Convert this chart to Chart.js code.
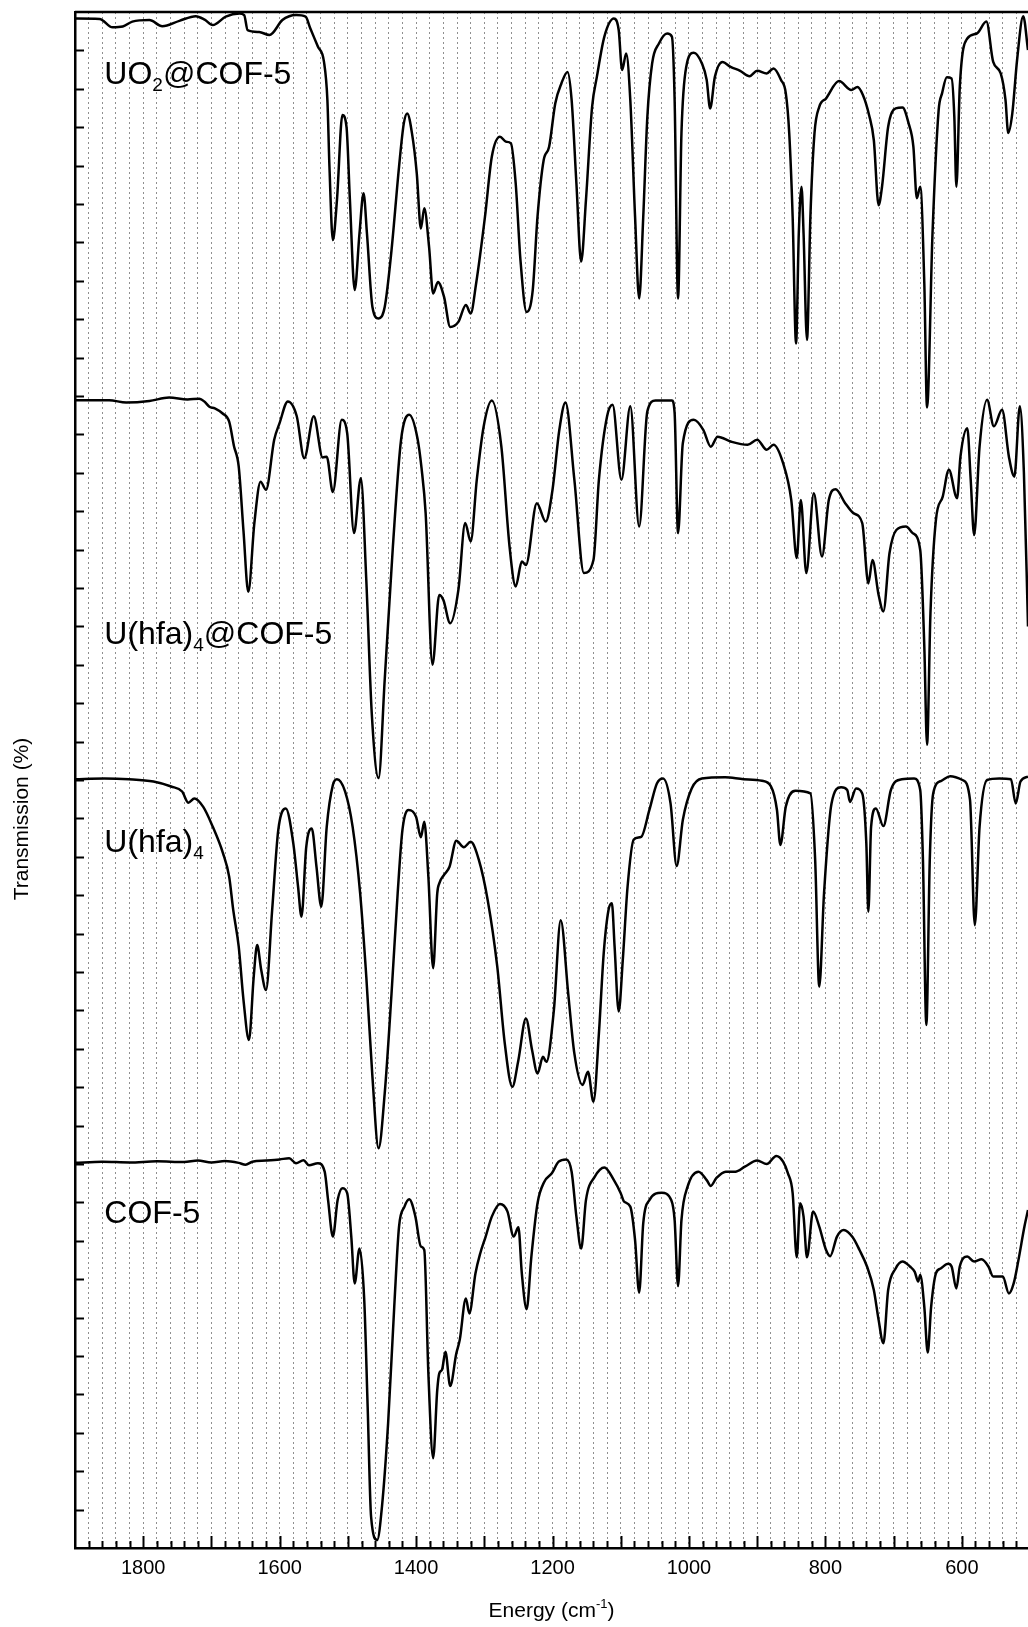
<!DOCTYPE html>
<html>
<head>
<meta charset="utf-8">
<script src="https://cdn.jsdelivr.net/npm/chart.js@4/dist/chart.umd.min.js"></script>
<style>
  html, body { margin: 0; padding: 0; background: #fff; overflow: hidden; }
  #wrap { width: 1028px; height: 1627px; position: relative; }
</style>
</head>
<body>
<div id="wrap"><canvas id="irChart"></canvas></div>
<script>
// ----- Data (wavenumber in cm-1, transmission in relative units per trace) -----
const FONT = 'Arial, "Liberation Sans", Helvetica, sans-serif';

// stacking offsets, top to bottom
const offsets = [300, 200, 100, 0];

// UO2@COF-5
const waveUO2 = [1900, 1864, 1845, 1830, 1816, 1791, 1772, 1747, 1723, 1710, 1698, 1679, 1659, 1652, 1647, 1630, 1615, 1596, 1586, 1576,
  1562, 1555, 1544, 1535, 1530, 1527, 1522, 1516, 1508, 1502, 1497, 1490, 1483, 1477, 1472, 1464, 1455, 1446, 1436, 1425,
  1418, 1413, 1406, 1399, 1393, 1388, 1381, 1375, 1368, 1359, 1350, 1338, 1327, 1320, 1312, 1299, 1289, 1277, 1268, 1261,
  1254, 1247, 1238, 1229, 1222, 1213, 1205, 1196, 1187, 1178, 1172, 1165, 1158, 1151, 1142, 1135, 1124, 1110, 1103, 1098,
  1092, 1086, 1079, 1073, 1067, 1061, 1054, 1044, 1032, 1025, 1021, 1016, 1011, 1004, 993, 981, 974, 969, 962, 951,
  939, 925, 911, 900, 886, 876, 865, 858, 853, 848, 843, 839, 835, 832, 827, 822, 816, 809, 799, 780,
  762, 753, 745, 736, 729, 722, 717, 708, 697, 687, 678, 671, 666, 661, 655, 651, 643, 634, 629, 622,
  615, 611, 608, 603, 592, 578, 564, 554, 543, 536, 532, 526, 519, 510, 503];
const transUO2 = [98.3, 98.2, 96.0, 96.2, 97.5, 97.9, 96.3, 97.7, 98.9, 98.0, 96.6, 98.8, 99.6, 99.2, 95.3, 94.8, 94.0, 97.9, 98.9, 99.2,
  98.8, 95.7, 91.0, 87.0, 77.0, 59.7, 40.6, 51.0, 73.2, 70.1, 51.0, 27.6, 42.3, 52.8, 42.3, 23.2, 20.2, 23.2, 38.0, 59.7,
  71.0, 73.6, 68.4, 58.0, 43.6, 48.9, 38.9, 26.7, 29.7, 25.8, 18.0, 19.3, 23.7, 21.5, 29.3, 46.7, 62.3, 67.5, 66.2, 65.8,
  55.4, 35.4, 21.9, 27.6, 46.7, 61.4, 64.9, 76.2, 81.4, 84.4, 77.1, 55.4, 35.0, 51.0, 75.3, 83.1, 93.6, 98.3, 95.3, 84.9,
  89.2, 77.1, 46.7, 25.4, 46.7, 72.7, 86.6, 91.8, 94.4, 93.6, 77.1, 25.4, 68.4, 85.7, 89.4, 86.6, 82.3, 74.9, 83.1, 87.0,
  85.7, 84.7, 83.3, 84.7, 84.0, 85.3, 82.3, 78.8, 68.4, 46.7, 13.7, 42.3, 54.5, 42.3, 14.6, 46.7, 68.4, 75.3, 77.5, 82.0,
  79.7, 80.5, 78.4, 73.2, 66.6, 49.7, 54.5, 70.1, 74.9, 75.1, 71.0, 64.9, 51.5, 54.5, 29.3, -3.0, 42.3, 74.4, 78.8, 83.0,
  82.7, 72.7, 54.5, 80.5, 93.1, 94.4, 97.5, 87.0, 84.0, 77.1, 68.5, 73.6, 87.5, 98.9, 90.1];

// U(hfa)4@COF-5
const waveUhfaCOF = [1900, 1850, 1825, 1791, 1762, 1735, 1718, 1710, 1703, 1695, 1684, 1674, 1667, 1660, 1653, 1646, 1637, 1628, 1620, 1608,
  1600, 1588, 1575, 1564, 1550, 1537, 1531, 1522, 1509, 1501, 1491, 1481, 1473, 1465, 1455, 1446, 1434, 1422, 1410, 1398,
  1392, 1386, 1376, 1366, 1360, 1350, 1338, 1328, 1320, 1311, 1301, 1289, 1275, 1263, 1254, 1245, 1239, 1223, 1210, 1200,
  1190, 1181, 1168, 1154, 1140, 1132, 1120, 1112, 1099, 1086, 1073, 1061, 1049, 1025, 1021, 1016, 1009, 993, 979, 968,
  958, 938, 914, 900, 886, 876, 862, 850, 842, 836, 828, 817, 805, 795, 785, 771, 759, 746, 737, 731,
  722, 715, 706, 696, 682, 672, 661, 655, 651, 646, 638, 628, 619, 607, 602, 592, 587, 582, 574, 563,
  553, 541, 531, 523, 515, 509, 503];
const transUhfaCOF = [98.9, 98.9, 98.3, 98.7, 99.6, 99.1, 99.3, 98.5, 97.2, 96.8, 95.5, 93.3, 87.0, 81.6, 64.8, 49.0, 67.0, 77.7, 75.6, 88.6,
  93.0, 98.6, 94.8, 83.8, 94.7, 84.0, 84.2, 75.0, 93.8, 90.3, 64.3, 78.6, 52.1, 17.4, 0.5, 26.1, 60.8, 88.6, 95.1, 89.0,
  81.2, 69.5, 30.0, 48.2, 46.9, 40.8, 49.5, 66.9, 62.1, 78.2, 92.0, 98.8, 86.8, 60.8, 50.4, 56.9, 56.0, 72.1, 67.3, 75.6,
  91.2, 98.3, 78.2, 53.9, 57.3, 78.2, 94.7, 97.7, 78.2, 97.3, 66.0, 96.0, 98.8, 98.8, 95.5, 64.3, 87.7, 93.8, 91.2, 86.8,
  89.4, 88.1, 87.3, 88.6, 86.0, 87.3, 82.5, 72.9, 57.8, 72.9, 53.9, 74.7, 58.2, 72.9, 75.7, 72.1, 69.5, 66.9, 51.2, 57.3,
  48.2, 43.9, 59.1, 65.1, 66.0, 64.3, 59.9, 34.8, 9.2, 43.4, 67.7, 73.8, 80.8, 73.4, 84.2, 91.6, 78.2, 63.8, 86.8, 99.0,
  92.1, 96.4, 84.2, 79.0, 97.3, 80.0, 40.0];

// U(hfa)4
const waveUhfa = [1901, 1857, 1821, 1785, 1759, 1743, 1734, 1725, 1712, 1698, 1683, 1674, 1668, 1660, 1653, 1645, 1638, 1633, 1627, 1620,
  1611, 1602, 1591, 1580, 1573, 1568, 1561, 1553, 1546, 1539, 1531, 1522, 1516, 1504, 1493, 1482, 1473, 1464, 1455, 1446,
  1436, 1427, 1420, 1411, 1400, 1393, 1388, 1382, 1375, 1369, 1366, 1359, 1351, 1341, 1330, 1320, 1308, 1295, 1281, 1270,
  1259, 1250, 1239, 1230, 1222, 1214, 1209, 1198, 1188, 1177, 1168, 1156, 1148, 1140, 1132, 1125, 1118, 1113, 1109, 1103,
  1097, 1090, 1081, 1070, 1058, 1047, 1038, 1027, 1018, 1009, 996, 981, 947, 920, 893, 880, 871, 866, 858, 844,
  822, 815, 809, 802, 791, 777, 768, 764, 755, 746, 740, 737, 733, 726, 715, 704, 688, 670, 661, 657,
  652, 647, 642, 630, 617, 599, 588, 581, 574, 563, 545, 528, 521, 514, 503];
const transUhfa = [100.2, 100.4, 100.2, 99.6, 98.3, 97.0, 94.1, 95.2, 93.0, 87.8, 80.9, 74.8, 66.1, 56.6, 42.7, 32.3, 48.8, 57.0, 50.5, 45.3,
  66.1, 87.0, 92.6, 83.5, 72.2, 64.4, 82.6, 87.4, 77.4, 67.0, 87.8, 98.7, 100.2, 97.0, 87.8, 70.5, 48.8, 22.7, 4.1, 18.4,
  44.4, 70.5, 87.0, 92.2, 90.4, 85.1, 89.1, 74.8, 51.0, 70.5, 73.1, 75.3, 77.4, 84.2, 82.5, 83.9, 79.2, 68.7, 51.4, 31.4,
  20.1, 27.1, 37.9, 29.7, 23.6, 27.9, 26.6, 40.1, 63.5, 44.4, 28.8, 20.6, 24.0, 16.2, 34.0, 54.8, 66.1, 67.9, 56.6, 39.7,
  53.1, 72.2, 84.5, 85.2, 92.2, 99.1, 100.4, 93.9, 77.6, 89.6, 97.8, 100.4, 100.7, 100.2, 99.8, 98.4, 92.2, 83.1, 93.1, 97.2,
  96.5, 79.2, 46.2, 70.5, 93.9, 98.1, 97.4, 94.3, 97.8, 96.5, 83.5, 65.7, 87.8, 92.6, 88.0, 97.4, 100.2, 100.4, 97.4, 79.2,
  36.2, 79.2, 96.5, 99.8, 101.0, 100.0, 94.8, 62.2, 87.8, 100.0, 100.4, 100.2, 93.9, 99.6, 100.9];

// COF-5
const waveCOF = [1900, 1860, 1820, 1780, 1740, 1720, 1700, 1680, 1660, 1650, 1640, 1620, 1600, 1586, 1576, 1565, 1557, 1544, 1534, 1529,
  1522, 1515, 1508, 1501, 1495, 1490, 1483, 1476, 1471, 1466, 1457, 1450, 1441, 1432, 1425, 1417, 1410, 1401, 1393, 1388,
  1382, 1375, 1369, 1366, 1362, 1357, 1350, 1341, 1336, 1327, 1322, 1313, 1306, 1298, 1289, 1277, 1266, 1257, 1250, 1245,
  1238, 1231, 1222, 1212, 1201, 1191, 1180, 1172, 1165, 1158, 1151, 1138, 1124, 1110, 1100, 1095, 1086, 1079, 1073, 1067,
  1058, 1040, 1026, 1021, 1016, 1011, 1002, 986, 974, 968, 960, 946, 932, 918, 900, 886, 872, 862, 855, 848,
  842, 837, 832, 827, 818, 809, 799, 793, 783, 773, 760, 750, 739, 729, 722, 715, 708, 697, 687, 676,
  669, 664, 661, 655, 650, 645, 638, 631, 620, 615, 608, 603, 592, 582, 571, 561, 554, 540, 531, 524,
  517, 508, 503];
const transCOF = [100.3, 100.6, 100.4, 100.7, 100.5, 100.9, 100.4, 100.8, 100.3, 99.8, 100.6, 100.9, 101.2, 101.5, 100.2, 101.0, 99.7, 100.2, 98.0, 90.6,
  81.1, 90.6, 93.7, 92.4, 81.1, 68.9, 78.0, 64.6, 36.8, 8.2, 2.1, 10.8, 32.5, 62.9, 83.7, 88.9, 90.8, 86.3, 78.5, 77.6,
  45.5, 23.4, 41.1, 45.5, 46.4, 51.1, 42.2, 50.7, 54.2, 65.0, 61.1, 71.5, 76.7, 81.1, 86.3, 89.6, 87.6, 81.1, 83.5, 71.5,
  62.2, 75.9, 89.8, 95.4, 97.6, 100.6, 101.2, 98.0, 86.3, 78.0, 90.6, 96.7, 99.1, 95.8, 92.4, 90.2, 88.9, 80.2, 66.5, 84.6,
  90.6, 92.5, 90.6, 85.4, 68.2, 85.4, 94.1, 98.0, 95.8, 94.3, 96.3, 98.0, 98.0, 99.3, 100.9, 100.0, 102.1, 100.6, 97.6, 92.4,
  75.7, 89.8, 86.3, 75.7, 87.6, 83.7, 77.6, 76.0, 81.1, 82.8, 80.9, 77.6, 73.3, 67.2, 59.4, 53.3, 67.2, 72.8, 74.6, 73.3,
  71.9, 69.4, 71.1, 62.8, 50.9, 62.8, 71.5, 72.8, 74.0, 73.3, 67.6, 73.3, 75.9, 74.6, 75.2, 73.3, 70.7, 70.7, 66.3, 68.9,
  75.0, 83.9, 88.0];

// x tick labels shown every 200 cm-1; dotted grid every 20 cm-1
const xLabelValues = [1800, 1600, 1400, 1200, 1000, 800, 600];
const gridValues = [];
for (let v = 520; v <= 1880; v += 20) gridValues.push(v);

// trace labels: [text, style] pieces
const traceLabels = [
  [['UO', 'n'], ['2', 'sub'], ['@COF-5', 'n']],
  [['U(hfa)', 'n'], ['4', 'sub'], ['@COF-5', 'n']],
  [['U(hfa)', 'n'], ['4', 'sub']],
  [['COF-5', 'n']]
];
// label anchor in axis units: [wavenumber, y]
const labelAnchors = [[1857, 381.3], [1857, 235.3], [1857, 181.3], [1857, 84.7]];

// ----- Build datasets -----
function makeTrace(waves, trans, offset) {
  return waves.map((w, i) => ({ x: w, y: offset + trans[i] }));
}

const traces = [
  makeTrace(waveUO2, transUO2, offsets[0]),
  makeTrace(waveUhfaCOF, transUhfaCOF, offsets[1]),
  makeTrace(waveUhfa, transUhfa, offsets[2]),
  makeTrace(waveCOF, transCOF, offsets[3])
];

// draws a label made of normal / subscript / superscript pieces
function drawRich(ctx, parts, x, y, size, align) {
  const subSize = Math.round(size * 0.6);
  let total = 0;
  parts.forEach(([t, s]) => {
    ctx.font = (s === 'n' ? size : subSize) + 'px ' + FONT;
    total += ctx.measureText(t).width;
  });
  let cx = align === 'center' ? x - total / 2 : x;
  parts.forEach(([t, s]) => {
    ctx.font = (s === 'n' ? size : subSize) + 'px ' + FONT;
    let dy = 0;
    if (s === 'sub') dy = size * 0.22;
    if (s === 'sup') dy = -size * 0.45;
    ctx.fillText(t, cx, y + dy);
    cx += ctx.measureText(t).width;
  });
}

const framePlugin = {
  id: 'framePlugin',
  afterDraw(chart) {
    const { ctx, chartArea: area, scales } = chart;
    const xs = scales.x, ys = scales.y;
    ctx.save();
    ctx.strokeStyle = '#000';
    ctx.fillStyle = '#000';

    // top frame line
    ctx.lineWidth = 2.5;
    ctx.beginPath();
    ctx.moveTo(area.left, area.top);
    ctx.lineTo(area.right, area.top);
    ctx.stroke();

    // inward ticks on the x axis
    ctx.lineWidth = 2;
    gridValues.forEach(v => {
      const px = Math.round(xs.getPixelForValue(v)) + 0.5;
      const len = v % 100 === 0 ? 12 : 7;
      ctx.beginPath();
      ctx.moveTo(px, area.bottom);
      ctx.lineTo(px, area.bottom - len);
      ctx.stroke();
    });
    // inward ticks on the y axis
    for (let v = 10; v < 400; v += 10) {
      const py = Math.round(ys.getPixelForValue(v)) + 0.5;
      ctx.beginPath();
      ctx.moveTo(area.left, py);
      ctx.lineTo(area.left + 9, py);
      ctx.stroke();
    }

    // trace labels
    ctx.textAlign = 'left';
    ctx.textBaseline = 'alphabetic';
    traceLabels.forEach((parts, i) => {
      const [w, yv] = labelAnchors[i];
      drawRich(ctx, parts, xs.getPixelForValue(w), ys.getPixelForValue(yv), 32, 'left');
    });

    // x axis title
    drawRich(ctx, [['Energy (cm', 'n'], ['-1', 'sup'], [')', 'n']],
      (area.left + area.right) / 2, 1617, 21, 'center');

    // y axis title
    ctx.translate(22, 819);
    ctx.rotate(-Math.PI / 2);
    ctx.textAlign = 'center';
    ctx.textBaseline = 'middle';
    ctx.font = '21px ' + FONT;
    ctx.fillText('Transmission (%)', 0, 0);
    ctx.restore();
  }
};

// ----- Chart -----
new Chart(document.getElementById('irChart'), {
  type: 'scatter',
  data: {
    datasets: traces.map(t => ({
      data: t,
      showLine: true,
      borderColor: '#000',
      borderWidth: 2.5,
      pointRadius: 0,
      cubicInterpolationMode: 'monotone',
      fill: false
    }))
  },
  options: {
    responsive: true,
    maintainAspectRatio: false,
    devicePixelRatio: 1,
    animation: false,
    events: [],
    layout: { padding: { top: 12, right: 0, left: 0, bottom: 0 } },
    plugins: { legend: { display: false }, tooltip: { enabled: false } },
    scales: {
      x: {
        type: 'linear',
        reverse: true,
        min: 503,
        max: 1900,
        afterFit: s => { s.height = 79; },
        afterBuildTicks: s => { s.ticks = gridValues.map(v => ({ value: v })); },
        ticks: {
          autoSkip: false,
          maxRotation: 0,
          padding: 8,
          color: '#000',
          font: { size: 20, family: FONT },
          callback: v => xLabelValues.includes(v) ? String(v) : ''
        },
        grid: { color: '#8f8f8f', lineWidth: 1, drawTicks: false },
        border: { display: true, color: '#000', width: 2.5, dash: [2, 3] }
      },
      y: {
        min: 0,
        max: 400,
        afterFit: s => { s.width = 75; },
        ticks: { display: false, stepSize: 10 },
        grid: { display: false },
        border: { display: true, color: '#000', width: 2.5 }
      }
    }
  },
  plugins: [framePlugin]
});
</script>
</body>
</html>
